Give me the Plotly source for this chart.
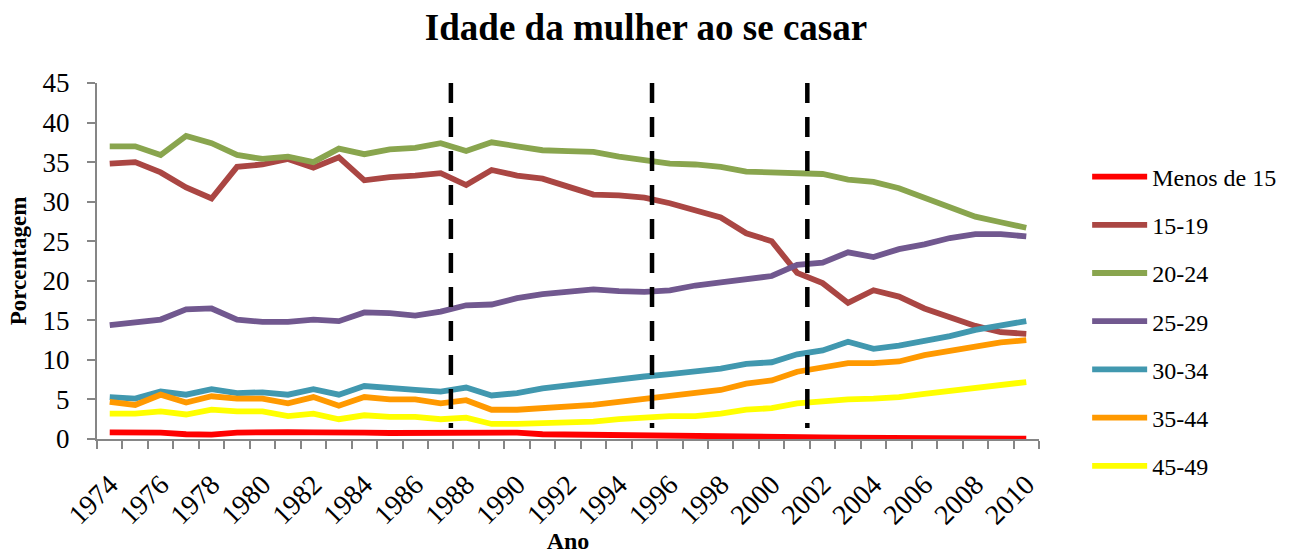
import plotly.graph_objects as go

years = list(range(1974, 2011))

menos_15 = [0.84, 0.84, 0.8, 0.6, 0.55, 0.8, 0.92, 0.88, 0.84, 0.88, 0.8, 0.76, 0.76, 0.76,
            0.72, 0.7, 0.8, 0.6, 0.55, 0.5, 0.46, 0.45, 0.45, 0.38, 0.35, 0.33, 0.3, 0.25,
            0.2, 0.18, 0.15, 0.13, 0.12, 0.1, 0.08, 0.06, 0.04]
s15_19 = [34.8, 35.0, 33.7, 31.8, 30.4, 34.4, 34.7, 35.4, 34.3, 35.6, 32.7, 33.1, 33.3, 33.6,
          32.1, 34.0, 33.3, 32.9, 31.9, 30.9, 30.8, 30.5, 29.8, 28.9, 28.0, 26.0, 25.0, 21.0,
          19.7, 17.2, 18.8, 18.0, 16.5, 15.4, 14.3, 13.5, 13.3]
s20_24 = [37.0, 37.0, 35.9, 38.3, 37.4, 35.9, 35.4, 35.7, 35.0, 36.7, 36.0, 36.6, 36.8, 37.4,
          36.4, 37.5, 37.0, 36.5, 36.4, 36.3, 35.7, 35.3, 34.8, 34.7, 34.4, 33.8, 33.7, 33.6,
          33.5, 32.8, 32.5, 31.7, 30.5, 29.3, 28.1, 27.4, 26.7]
s25_29 = [14.4, 14.7, 15.1, 16.4, 16.5, 15.1, 14.8, 14.8, 15.1, 14.9, 16.0, 15.9, 15.6, 16.1,
          16.9, 17.0, 17.8, 18.3, 18.6, 18.9, 18.7, 18.6, 18.8, 19.4, 19.8, 20.2, 20.6, 22.0,
          22.3, 23.6, 23.0, 24.0, 24.6, 25.4, 25.9, 25.9, 25.6]
s30_34 = [5.3, 5.1, 6.0, 5.6, 6.3, 5.8, 5.9, 5.6, 6.3, 5.6, 6.7, 6.4, 6.2, 6.0,
          6.5, 5.5, 5.8, 6.4, 6.8, 7.2, 7.6, 7.9, 8.2, 8.5, 8.9, 9.5, 9.7, 10.7,
          11.2, 12.3, 11.4, 11.8, 12.4, 13.0, 13.8, 14.3, 14.9]
s35_44 = [4.7, 4.3, 5.6, 4.6, 5.4, 5.1, 5.1, 4.5, 5.3, 4.2, 5.3, 5.0, 5.0, 4.5,
          4.9, 3.7, 3.7, 3.9, 4.2, 4.3, 4.7, 5.1, 5.4, 5.8, 6.2, 7.0, 7.4, 8.5,
          9.0, 9.6, 9.6, 9.8, 10.6, 11.1, 11.7, 12.2, 12.5]
s45_49 = [3.2, 3.2, 3.5, 3.1, 3.7, 3.5, 3.5, 2.9, 3.2, 2.5, 3.0, 2.8, 2.8, 2.5,
          2.7, 1.9, 1.9, 1.95, 2.1, 2.2, 2.5, 2.7, 2.9, 2.9, 3.2, 3.7, 3.9, 4.5,
          4.8, 5.0, 5.1, 5.3, 5.7, 6.1, 6.5, 6.9, 7.2]

series_names = ["Menos de 15", "15-19", "20-24", "25-29", "30-34", "35-44", "45-49"]
series_values = [menos_15, s15_19, s20_24, s25_29, s30_34, s35_44, s45_49]
series_colors = ["#FF0000", "#AA4643", "#89A54E", "#71588F", "#4198AF", "#FF9900", "#FFFF00"]

event_years = [1987.4, 1995.3, 2001.4]
tick_labels = [str(y) for y in range(1974, 2011, 2)]

FONT = "Liberation Serif"

fig = go.Figure()
for name, vals, col in zip(series_names, series_values, series_colors):
    fig.add_trace(go.Scatter(x=years, y=vals, name=name, mode="lines",
                             legendgroup=name,
                             line=dict(color=col, width=5.8)))

for ey in event_years:
    fig.add_shape(type="line", xref="x", yref="y", x0=ey, x1=ey, y0=45, y1=1.4,
                  line=dict(color="black", width=4.5, dash="20px,14px"))

fig.update_layout(
    width=1292, height=554,
    margin=dict(l=97, r=252, t=83, b=115),
    paper_bgcolor="white", plot_bgcolor="white",
    font=dict(family=FONT, color="black"),
    title=dict(text="<b>Idade da mulher ao se casar</b>", x=0.5, xanchor="center",
               y=1 - 27 / 554, yanchor="middle", yref="container",
               font=dict(family=FONT, size=37, color="black")),
    showlegend=True,
    legend=dict(x=1.05, xanchor="left", y=0.33, yanchor="middle",
                font=dict(family=FONT, size=24, color="black"),
                tracegroupgap=14, itemwidth=55, bgcolor="rgba(0,0,0,0)"),
    xaxis=dict(range=[1973.5, 2010.5], tickmode="array",
               tickvals=list(range(1974, 2011, 2)), ticktext=tick_labels,
               tickangle=-45, ticks="", showgrid=False, zeroline=False,
               showline=True, linecolor="#868686", linewidth=2,
               ticklabelstandoff=16, automargin=False,
               tickfont=dict(family=FONT, size=28, color="black"),
               minor=dict(tick0=1973.5, dtick=1, ticks="outside", ticklen=8,
                          tickcolor="#868686", tickwidth=2, showgrid=False),
               title=dict(text="<b>Ano</b>", font=dict(family=FONT, size=24, color="black"),
                          standoff=4)),
    yaxis=dict(range=[0, 45], tickmode="linear", tick0=0, dtick=5,
               ticks="outside", ticklen=8, tickcolor="#868686", tickwidth=2,
               showgrid=False, zeroline=False, showline=True, linecolor="#868686",
               linewidth=2, ticklabelstandoff=12, automargin=False,
               tickfont=dict(family=FONT, size=27, color="black"),
               title=dict(text="<b>Porcentagem</b>",
                          font=dict(family=FONT, size=23, color="black"), standoff=10)),
)

fig.write_html("out.html", config={"displayModeBar": False},
               post_script="document.body.style.margin='0';document.body.style.padding='0';")
